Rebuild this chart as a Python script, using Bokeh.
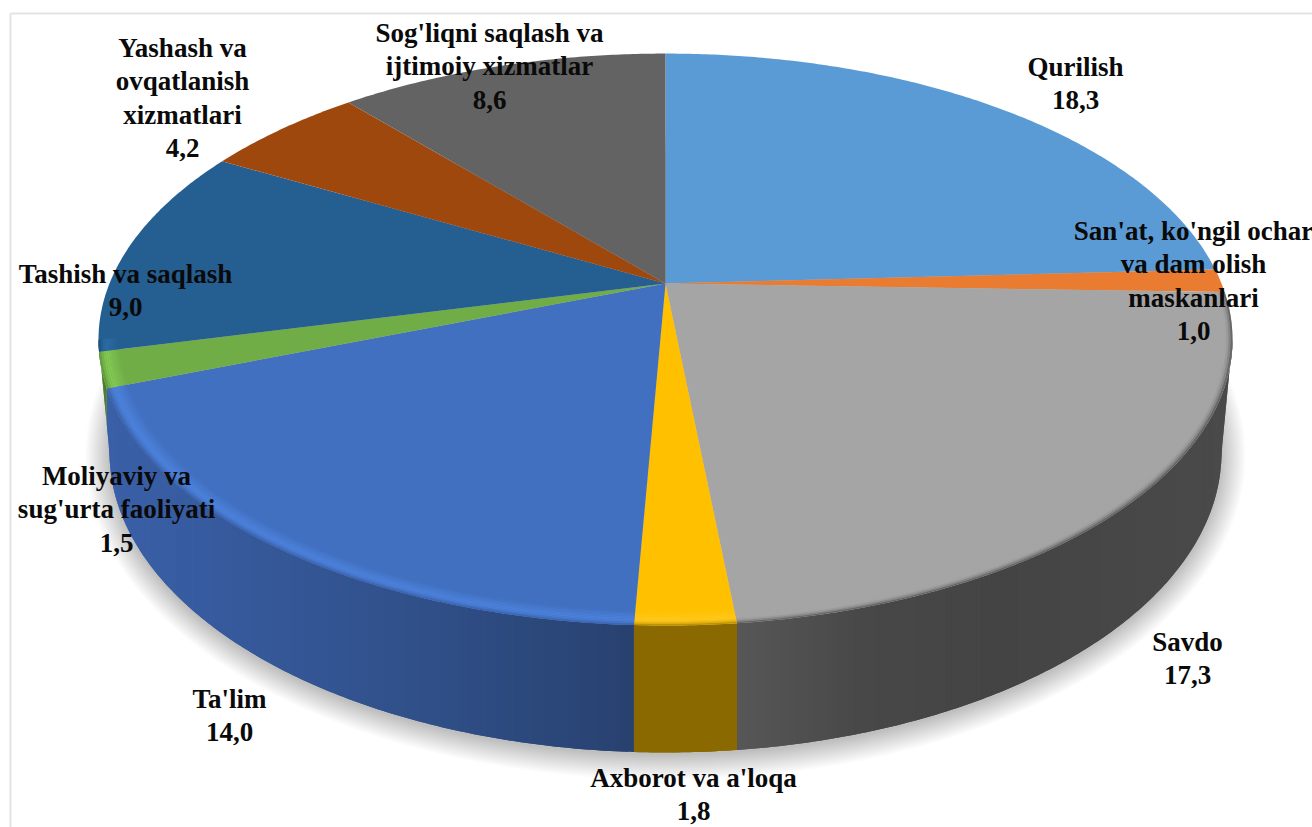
import numpy as np
from bokeh.plotting import figure
from bokeh.models import ColumnDataSource
from bokeh.core.properties import value
from bokeh.embed import file_html
from bokeh.resources import INLINE

# ---- data ----
categories = ["Qurilish", "San'at, ko'ngil ochar va dam olish maskanlari", "Savdo",
              "Axborot va a'loqa", "Ta'lim", "Moliyaviy va sug'urta faoliyati",
              "Tashish va saqlash", "Yashash va ovqatlanish xizmatlari",
              "Sog'liqni saqlash va ijtimoiy xizmatlar"]
values = [18.3, 1.0, 17.3, 1.8, 14.0, 1.5, 9.0, 4.2, 8.6]
label_lines = [["Qurilish"], ["San'at, ko'ngil ochar", "va dam olish", "maskanlari"], ["Savdo"],
               ["Axborot va a'loqa"], ["Ta'lim"], ["Moliyaviy va", "sug'urta faoliyati"],
               ["Tashish va saqlash"], ["Yashash va", "ovqatlanish", "xizmatlari"],
               ["Sog'liqni saqlash va", "ijtimoiy xizmatlar"]]
top_colors = ["#5b9bd5", "#e97c30", "#a5a5a5", "#ffc000", "#4270c0", "#70ad47", "#255e91", "#9e480e", "#636363"]

# ---- layout (page pixels) ----
CX, CY = 665.0, 283.0
A, B, K = 275.0, 556.0, 0.196
BOT_CY, BOT_RX, BOT_RY = 452.0, 556.0, 300.0
TOP_CY, TOP_RX = 339.0, 567.0
label_x = [1075, 1193, 1187, 693, 229, 116, 125, 182, 489]
label_y0 = [66, 230, 641, 777, 698, 475, 273, 47, 32]
LINE = 33.6


def project(theta, r=1.0):
    u, v = r * np.sin(theta), r * np.cos(theta)
    d = 1 + K * v
    return CX + B * u / d, CY - A * v / d


def bottom_y(x):
    dx = np.abs(x - CX)
    t = np.sqrt(np.clip(1 - (np.minimum(dx, BOT_RX) / BOT_RX) ** 2, 0, 1))
    y = BOT_CY + BOT_RY * t
    over = dx > BOT_RX
    f = np.clip((dx - BOT_RX) / (TOP_RX - BOT_RX), 0, 1)
    return np.where(over, BOT_CY + (TOP_CY - BOT_CY) * f, y)


def hex2rgb(h):
    return np.array([int(h[i:i + 2], 16) for i in (1, 3, 5)], dtype=float)


def mix(c1, c2, f):
    c = hex2rgb(c1) * (1 - f) + hex2rgb(c2) * f
    return "#%02x%02x%02x" % tuple(int(round(a)) for a in c)


def ramp(stops, x):
    xs = [s[0] for s in stops]
    ch = [np.interp(x, xs, [hex2rgb(s[1])[i] for s in stops]) for i in range(3)]
    return "#%02x%02x%02x" % tuple(int(round(a)) for a in ch)


wall_ramps = {
    2: [(735, "#575757"), (860, "#484848"), (1000, "#444444"), (1232, "#4a4a4a")],
    3: [(634, "#8a6a00"), (735, "#8a6a00")],
    4: [(106, "#3a60a8"), (300, "#345695"), (450, "#2f4e86"), (634, "#28416f")],
    5: [(98, "#4f7c32"), (110, "#4f7c32")],
    6: [(96, "#1d4a73"), (100, "#1d4a73")],
}
bevel_colors = {2: ("#a5a5a5", "#a5a5a5", "#555555"), 3: ("#ffc000", "#ffc81c", "#a88300"),
                4: ("#4270c0", "#4c82dc", "#3a5fa5"), 5: ("#70ad47", "#82c854", "#5d9138"),
                6: ("#255e91", "#2a6aa3", "#1d4a73")}

fracs = np.array(values) / sum(values)
edges = np.concatenate([[0], np.cumsum(fracs)]) * 2 * np.pi

p = figure(width=1312, height=827, x_range=(0, 1312), y_range=(827, 0), output_backend="svg",
           toolbar_location=None, min_border=0, outline_line_color=None)
p.axis.visible = False
p.grid.visible = False
p.background_fill_color = "white"
p.border_fill_color = "white"

# frame
p.segment(x0=[10, 10], y0=[13, 13], x1=[10, 1312], y1=[827, 13], line_color="#e3e3e3", line_width=2)

# soft shadow below the pie
tt = np.linspace(0, 2 * np.pi, 240)
steps = 16
for i in range(steps):
    grow = 30 * (1 - i / (steps - 1))
    p.patch(CX + (BOT_RX + grow * 0.8) * np.sin(tt), BOT_CY + 3 + (BOT_RY + grow * 0.8) * np.cos(tt),
            fill_color="black", fill_alpha=0.014, line_color=None)

# side wall: overlapping vertical strips, painted in angle order
TH_R, TH_L = np.arccos(-K), 2 * np.pi - np.arccos(-K)
wx, wy, wc = [], [], []
for i in range(len(values)):
    a0, a1 = max(edges[i], TH_R), min(edges[i + 1], TH_L)
    if a1 <= a0 or i not in wall_ramps:
        continue
    n = max(2, int((a1 - a0) / np.radians(0.5)))
    th = np.linspace(a0, a1, n + 1)
    xs, ys = project(th)
    yb = bottom_y(xs)
    for j in range(n):
        e = min(j + 2, n)
        wx.append([xs[j], xs[j + 1], xs[e], xs[e], xs[j + 1], xs[j]])
        wy.append([ys[j], ys[j + 1], ys[e], yb[e], yb[j + 1], yb[j]])
        wc.append(ramp(wall_ramps[i], 0.5 * (xs[j] + xs[j + 1])))
p.patches(xs="x", ys="y", fill_color="c", line_color=None,
          source=ColumnDataSource(dict(x=wx, y=wy, c=wc)))

# top slices
sx, sy = [], []
for i in range(len(values)):
    n = max(2, int((edges[i + 1] - edges[i]) / np.radians(0.5)))
    xs, ys = project(np.linspace(edges[i], edges[i + 1], n + 1))
    sx.append([CX] + list(xs))
    sy.append([CY] + list(ys))
p.patches(xs="x", ys="y", fill_color="c", line_color=None,
          source=ColumnDataSource(dict(x=sx, y=sy, c=top_colors)))

# bevel on the front rim
bx, by, bc = [], [], []
rings = np.linspace(0.965, 1.0, 11)
for i, cols in bevel_colors.items():
    a0, a1 = max(edges[i], TH_R - 0.2), min(edges[i + 1], TH_L)
    if a1 <= a0:
        continue
    n = max(2, int((a1 - a0) / np.radians(1.0)))
    th = np.linspace(a0, a1, n + 1)
    for k in range(len(rings) - 1):
        xo, yo = project(th, rings[k + 1])
        xi, yi = project(th[::-1], rings[k])
        f = (k + 0.5) / (len(rings) - 1)
        c = mix(cols[0], cols[1], f / 0.6) if f < 0.6 else mix(cols[1], cols[2], ((f - 0.6) / 0.4) ** 2)
        bx.append(list(xo) + list(xi))
        by.append(list(yo) + list(yi))
        bc.append(c)
p.patches(xs="x", ys="y", fill_color="c", line_color=None,
          source=ColumnDataSource(dict(x=bx, y=by, c=bc)))

# labels
tx, ty, ts = [], [], []
for i, lines in enumerate(label_lines):
    rows = lines + [f"{values[i]:.1f}".replace(".", ",")]
    for j, row in enumerate(rows):
        tx.append(label_x[i])
        ty.append(label_y0[i] + j * LINE)
        ts.append(row)
p.text(x="x", y="y", text="t", source=ColumnDataSource(dict(x=tx, y=ty, t=ts)),
       text_font=value("Liberation Serif"), text_font_style="bold", text_font_size="27px",
       text_color="#0a0a0a", text_align="center", text_baseline="middle")

open("out.html", "w").write(file_html(p, INLINE))
